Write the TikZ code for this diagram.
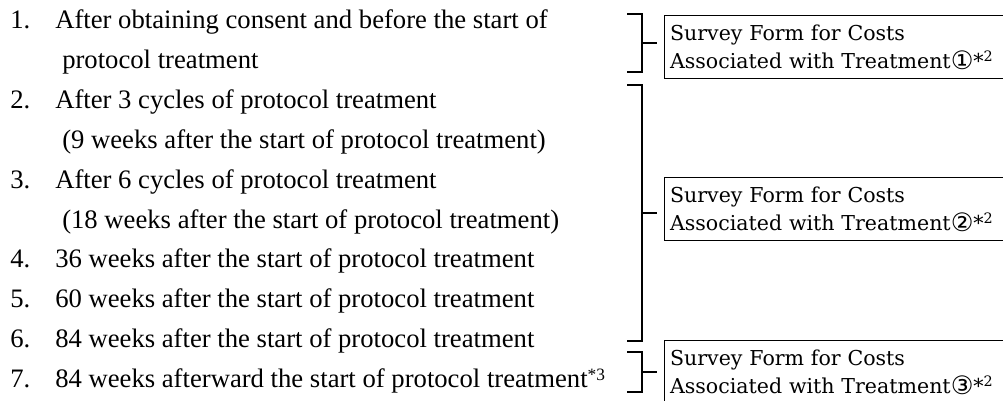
\documentclass[tikz,border=0pt]{standalone}
\usepackage{fontspec}
\setmainfont{Liberation Serif}
\newfontfamily\boxfont{DejaVu Serif}
\newfontfamily\circfont{DejaVu Sans}
\newcommand{\circd}[1]{{\circfont\fontsize{19}{19}\selectfont\raisebox{-0.5pt}{#1}}}
\begin{document}
\begin{tikzpicture}[x=0.75pt,y=-0.75pt,
  item/.style={anchor=base west,inner sep=0pt,font=\fontsize{20}{30}\selectfont},
  formbox/.style={draw,line width=1.1pt,anchor=north west,align=left,
    text width=262pt,minimum height=47pt,inner xsep=4pt,inner ysep=0pt,
    font=\boxfont\fontsize{15.4}{21}\selectfont},
  brack/.style={line width=1.5pt}]
\clip (0,0) rectangle (1003,400);
% list
\node[item] (n1) at (10,28) {1.};
\node[item] (t1) at (55,28) {After obtaining consent and before the start of};
\node[item] (t1b) at (62,68) {protocol treatment};
\node[item] (n2) at (10,108) {2.};
\node[item] (t2) at (55,108) {After 3 cycles of protocol treatment};
\node[item] (t2b) at (62,148) {(9 weeks after the start of protocol treatment)};
\node[item] (n3) at (10,188) {3.};
\node[item] (t3) at (55,188) {After 6 cycles of protocol treatment};
\node[item] (t3b) at (62,228) {(18 weeks after the start of protocol treatment)};
\node[item] (n4) at (10,267) {4.};
\node[item] (t4) at (55,267) {36 weeks after the start of protocol treatment};
\node[item] (n5) at (10,307) {5.};
\node[item] (t5) at (55,307) {60 weeks after the start of protocol treatment};
\node[item] (n6) at (10,347) {6.};
\node[item] (t6) at (55,347) {84 weeks after the start of protocol treatment};
\node[item] (n7) at (10,387) {7.};
\node[item] (t7) at (55,387) {84 weeks afterward the start of protocol treatment{\fontsize{13}{13}\selectfont\raisebox{5pt}{*3}}};
% boxes
\node[formbox] (f1) at (664,15) {Survey Form for Costs\\Associated with Treatment\circd{①}*\textsuperscript{2}};
\node[formbox] (f2) at (664,177) {Survey Form for Costs\\Associated with Treatment\circd{②}*\textsuperscript{2}};
\node[formbox] (f3) at (664,340) {Survey Form for Costs\\Associated with Treatment\circd{③}*\textsuperscript{2}};
% brackets
\coordinate (b1t) at (627,14); \coordinate (b1b) at (627,72);
\coordinate (b2t) at (627,85); \coordinate (b2b) at (627,341);
\coordinate (b3t) at (627,352); \coordinate (b3b) at (627,392);
\coordinate (k1) at (657,43); \coordinate (k2) at (657,213); \coordinate (k3) at (657,372);
\draw[brack] (b1t) -- ++(15,0) |- (b1b);
\draw[brack] (642,43) -- (k1);
\draw[brack] (b2t) -- ++(15,0) |- (b2b);
\draw[brack] (642,213) -- (k2);
\draw[brack] (b3t) -- ++(15,0) |- (b3b);
\draw[brack] (642,372) -- (k3);
\end{tikzpicture}
\end{document}
